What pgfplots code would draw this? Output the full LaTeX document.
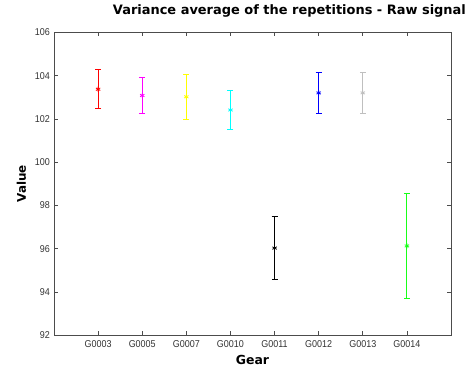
\documentclass[border=0pt]{standalone}
\usepackage{pgfplots}
\pgfplotsset{compat=1.18}
\usepackage{fontspec}
\setmainfont{Liberation Sans}
\newfontfamily\titlefont{DejaVu Sans}
\newfontfamily\tickfont[FakeStretch=0.9]{Liberation Sans}
\definecolor{mred}{rgb}{1,0,0}
\definecolor{mmag}{rgb}{1,0,1}
\definecolor{myel}{rgb}{1,1,0}
\definecolor{mcyan}{rgb}{0,1,1}
\definecolor{mblack}{rgb}{0,0,0}
\definecolor{mblue}{rgb}{0,0,1}
\definecolor{mgray}{rgb}{0.75,0.75,0.75}
\definecolor{mgreen}{rgb}{0.1,1,0.1}
\begin{document}
\begin{tikzpicture}
\begin{axis}[
  scale only axis,
  width=397bp, height=303bp,
  xmin=0, xmax=9, ymin=92, ymax=106,
  xtick={1,2,3,4,5,6,7,8},
  xticklabels={G0003,G0005,G0007,G0010,G0011,G0012,G0013,G0014},
  ytick={92,94,96,98,100,102,104,106},
  /pgf/number format/assume math mode=true,
  tick align=inside,
  major tick length=4bp,
  axis line style={black!70, line width=0.6bp},
  every tick/.style={black!70, line width=0.6bp},
  ticklabel style={font=\tickfont\fontsize{10}{10}\selectfont, text=black!80},
  yticklabel style={inner sep=0pt, xshift=-4bp},
  xticklabel style={inner sep=0pt, yshift=-5bp},
  title={Variance average of the repetitions - Raw signal},
  title style={at={(axis description cs:0.593,1.0396)}, anchor=base, inner sep=0pt, font=\titlefont\bfseries\fontsize{13}{13}\selectfont},
  xlabel={Gear},
  xlabel style={at={(axis description cs:0.5,-0.0957)}, anchor=base, inner sep=0pt, font=\titlefont\bfseries\fontsize{12.5}{12.5}\selectfont},
  ylabel={Value},
  ylabel style={at={(axis description cs:-0.0819,0.5)}, anchor=center, inner sep=0pt, font=\titlefont\bfseries\fontsize{12}{12}\selectfont},
  every axis plot/.append style={line width=0.8bp, mark=asterisk, mark size=2.5bp},
  error bars/y dir=both,
  error bars/y explicit,
  error bars/error bar style={line width=0.8bp},
  error bars/error mark options={mark size=3bp, line width=0.8bp, rotate=90},
]
\addplot[mred] coordinates {(1,103.37) +- (0,0.90)};
\addplot[mmag] coordinates {(2,103.08) +- (0,0.85)};
\addplot[myel] coordinates {(3,103.02) +- (0,1.03)};
\addplot[mcyan] coordinates {(4,102.41) +- (0,0.90)};
\addplot[mblack] coordinates {(5,96.03) +- (0,1.45)};
\addplot[mblue] coordinates {(6,103.20) +- (0,0.94)};
\addplot[mgray] coordinates {(7,103.20) +- (0,0.94)};
\addplot[mgreen] coordinates {(8,96.13) +- (0,2.41)};
\coordinate (bl) at (rel axis cs:0,0);
\coordinate (tr) at (rel axis cs:1,1);
\end{axis}
\path ([shift={(-54bp,-33bp)}]bl) rectangle ([shift={(18bp,32.3bp)}]tr);
\end{tikzpicture}
\end{document}
